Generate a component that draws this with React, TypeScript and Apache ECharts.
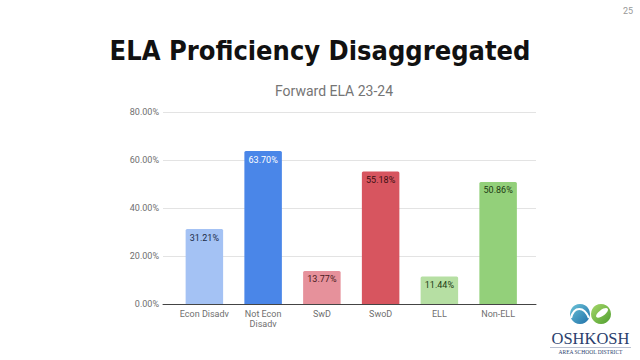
import React, { useEffect, useRef } from "react";
import * as echarts from "echarts";

const categories = ["Econ Disadv", "Not Econ\nDisadv", "SwD", "SwoD", "ELL", "Non-ELL"];
const values = [31.21, 63.7, 13.77, 55.18, 11.44, 50.86];
const barColors = ["#a4c2f4", "#4a86e8", "#e6919b", "#d7555f", "#b6dfa3", "#93d07a"];
const labelColors = ["#1c2b48", "#ffffff", "#4a1a1e", "#3a1012", "#1e3a14", "#1e3a14"];
const yMin = 0;
const yMax = 80;
const yInterval = 20;
const titleText = "ELA Proficiency Disaggregated";
const subtitleText = "Forward ELA 23-24";
const pageNumber = "25";

export default function App() {
  const ref = useRef<HTMLDivElement>(null);
  useEffect(() => {
    if (!ref.current) return;
    const chart = echarts.init(ref.current, null, { renderer: "svg" });
    const option: any = {
      animation: false,
      backgroundColor: "#ffffff",
      grid: [
        { left: 163, right: 104, top: 112, bottom: 56 },
        { left: 175, right: 112.5, top: 112, bottom: 56 },
      ],
      xAxis: [
        {
          gridIndex: 0,
          type: "value",
          min: 0,
          max: 1,
          axisLine: { show: true, lineStyle: { color: "#444", width: 1 } },
          axisTick: { show: false },
          axisLabel: { show: false },
          splitLine: { show: false },
        },
        {
          gridIndex: 1,
          type: "category",
          data: categories,
          axisLine: { show: false },
          axisTick: { show: false },
          axisLabel: {
            interval: 0,
            color: "#6f6f6f",
            fontFamily: "Roboto",
            fontSize: 9,
            lineHeight: 10,
            margin: 5,
          },
        },
      ],
      yAxis: [
        {
          gridIndex: 0,
          type: "value",
          min: yMin,
          max: yMax,
          interval: yInterval,
          axisLine: { show: false },
          axisTick: { show: false },
          axisLabel: {
            color: "#6f6f6f",
            fontFamily: "Roboto",
            fontSize: 9,
            margin: 4,
            formatter: (v: number) => v.toFixed(2) + "%",
          },
          splitLine: { lineStyle: { color: "#e3e3e3", width: 1 } },
        },
        {
          gridIndex: 1,
          type: "value",
          min: yMin,
          max: yMax,
          show: false,
        },
      ],
      series: [
        {
          type: "bar",
          xAxisIndex: 1,
          yAxisIndex: 1,
          barWidth: 37.5,
          data: values.map((v, i) => ({
            value: v,
            itemStyle: { color: barColors[i], borderRadius: [1.5, 1.5, 0, 0] },
            label: { color: labelColors[i] },
          })),
          label: {
            show: true,
            position: "insideTop",
            distance: 4,
            fontFamily: "Roboto",
            fontSize: 9,
            formatter: (p: any) => Number(p.value).toFixed(2) + "%",
          },
        },
      ],
      graphic: [
        {
          type: "text",
          x: 320,
          y: 50,
          style: {
            text: titleText,
            fontFamily: "'DejaVu Sans Condensed', 'DejaVu Sans', sans-serif",
            fontWeight: "bold",
            fontSize: 27,
            fill: "#111111",
            textAlign: "center",
            textVerticalAlign: "middle",
          },
        },
        {
          type: "text",
          x: 334,
          y: 90.5,
          style: {
            text: subtitleText,
            fontFamily: "Roboto",
            fontSize: 14,
            fill: "#757575",
            textAlign: "center",
            textVerticalAlign: "middle",
          },
        },
        {
          type: "text",
          x: 628,
          y: 11,
          style: {
            text: pageNumber,
            fontFamily: "Roboto",
            fontSize: 9,
            fill: "#999999",
            textAlign: "center",
            textVerticalAlign: "middle",
          },
        },
        {
          type: "group",
          children: [
            {
              type: "circle",
              shape: { cx: 580, cy: 314, r: 10 },
              style: {
                fill: new echarts.graphic.LinearGradient(0, 0, 1, 1, [
                  { offset: 0, color: "#6cc4d8" },
                  { offset: 1, color: "#1f6fa8" },
                ]),
              },
            },
            {
              type: "bezierCurve",
              shape: { x1: 571, y1: 318, x2: 589, y2: 318, cpx1: 574, cpy1: 306, cpx2: 584, cpy2: 306 },
              style: { stroke: "#ffffff", lineWidth: 2.2, fill: null },
            },
            {
              type: "circle",
              shape: { cx: 601, cy: 314, r: 10 },
              style: {
                fill: new echarts.graphic.LinearGradient(0, 0, 1, 1, [
                  { offset: 0, color: "#a6d86a" },
                  { offset: 1, color: "#4f9e2e" },
                ]),
              },
            },
            {
              type: "ellipse",
              shape: { cx: 602, cy: 313, rx: 7, ry: 3 },
              rotation: Math.PI / 5,
              originX: 602,
              originY: 313,
              style: { fill: "#ffffff" },
            },
            {
              type: "text",
              x: 590.5,
              y: 338,
              style: {
                text: "OSHKOSH",
                fontFamily: "'Liberation Serif', serif",
                fontSize: 16.5,
                fill: "#2b3f6e",
                textAlign: "center",
                textVerticalAlign: "middle",
              },
            },
            {
              type: "line",
              shape: { x1: 550, y1: 347.5, x2: 631, y2: 347.5 },
              style: { stroke: "#8a96b0", lineWidth: 0.6 },
            },
            {
              type: "text",
              x: 590.5,
              y: 351.5,
              style: {
                text: "AREA SCHOOL DISTRICT",
                fontFamily: "'Liberation Serif', serif",
                fontSize: 5.5,
                fill: "#2b3f6e",
                textAlign: "center",
                textVerticalAlign: "middle",
              },
            },
          ],
        },
      ],
    };
    chart.setOption(option);
    return () => chart.dispose();
  }, []);
  return (
    <div
      ref={ref}
      style={{ position: "absolute", left: 0, top: 0, width: 640, height: 360 }}
    />
  );
}
